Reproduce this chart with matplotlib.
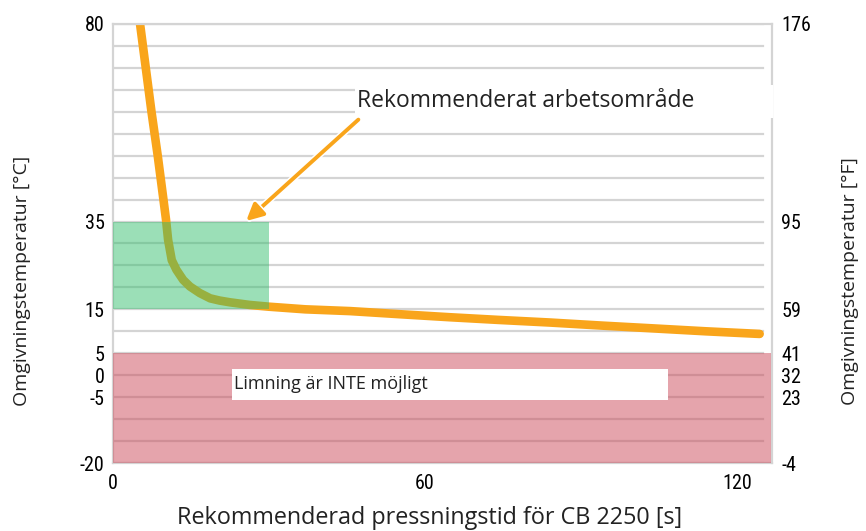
import matplotlib.pyplot as plt
import matplotlib.patheffects as pe
from matplotlib.patches import Rectangle
from matplotlib import font_manager

# pressing time [s] vs ambient temperature [°C]
tid = [5.2, 6.3, 7.4, 8.6, 9.7, 10.2, 10.6, 11.3, 12.2, 13.5, 14.8, 16.7, 18.7,
       20.5, 22.5, 26.3, 30.0, 37.0, 45.6, 55.0, 64.8, 74.0, 84.0, 94.0, 103.3,
       114.0, 124.4]
temp = [80, 70, 60, 50, 40, 35.4, 30.8, 26.2, 24.0, 21.7, 20.2, 18.7, 17.5,
        17.0, 16.6, 16.0, 15.6, 15.0, 14.6, 13.9, 13.2, 12.6, 12.0, 11.3, 10.7,
        10.0, 9.4]

c_ticks = [80, 35, 15, 5, 0, -5, -20]
f_labels = ["176", "95", "59", "41", "32", "23", "-4"]
x_ticks = [0, 60, 120]

ok_zone = (0, 30, 15, 35)      # x0, x1, y0, y1
no_zone = (0, 126.5, -20, 5)

orange = "#f9a51b"
gray = "#d4d4d4"
txtfont = ["Open Sans", "DejaVu Sans"]

# look for a narrow sans for the tick numbers
narrow = None
names = {f.name for f in font_manager.fontManager.ttflist}
for cand in ["Liberation Sans Narrow", "Roboto Condensed", "Open Sans Condensed",
             "DejaVu Sans Condensed"]:
    if cand in names:
        narrow = dict(family=cand)
        break
if narrow is None:
    narrow = dict(family="Liberation Sans")

fig = plt.figure(figsize=(8.66, 5.31), dpi=100)
ax = fig.add_axes([0.1305, 0.128, 0.7605, 0.827])
ax.set_xlim(0, 126.7)
ax.set_ylim(-20, 80)

for yy in range(-20, 81, 5):
    ax.plot([0, 125], [yy, yy], color=gray, lw=1.6, zorder=1)

ax.plot(tid, temp, color=orange, lw=6.2, solid_capstyle="round",
        solid_joinstyle="round", zorder=2)

ax.add_patch(Rectangle((ok_zone[0], ok_zone[2]), ok_zone[1] - ok_zone[0],
                       ok_zone[3] - ok_zone[2], facecolor="#2fbd6a", alpha=0.48,
                       edgecolor="none", zorder=3))
ax.add_patch(Rectangle((no_zone[0], no_zone[2]), no_zone[1] - no_zone[0],
                       no_zone[3] - no_zone[2], facecolor="#cc4a5a", alpha=0.5,
                       edgecolor="none", zorder=3))

for s in ax.spines.values():
    s.set_color(gray)
    s.set_linewidth(1.6)

ax.set_yticks(c_ticks)
ax.set_yticklabels([str(v) for v in c_ticks], fontsize=14.5, **narrow)
ax.set_xticks(x_ticks)
ax.set_xticklabels([str(v) for v in x_ticks], fontsize=14.5, **narrow)
ax.tick_params(length=0, pad=6)
ax.tick_params(axis="x", pad=8)
ax.set_xlabel("Rekommenderad pressningstid för CB 2250 [s]", fontsize=16.8,
              family=txtfont, color="#222222")
ax.xaxis.set_label_coords(0.481, -0.097)
ax.set_ylabel("Omgivningstemperatur [°C]", fontsize=14, family=txtfont, color="#222222")
ax.yaxis.set_label_coords(-0.125, 0.415)

ax2 = ax.twinx()
ax2.set_ylim(ax.get_ylim())
ax2.set_yticks(c_ticks)
ax2.set_yticklabels(f_labels, fontsize=14.5, **narrow)
ax2.tick_params(length=0, pad=7)
ax2.set_ylabel("Omgivningstemperatur [°F]", fontsize=14, family=txtfont, color="#222222")
ax2.yaxis.set_label_coords(1.106, 0.415)
for s in ax2.spines.values():
    s.set_visible(False)

# white label boxes
ax.add_patch(Rectangle((46.5, 58.6), 80.5, 7.5, facecolor="white", edgecolor="none",
                       zorder=5, clip_on=False))
ax.add_patch(Rectangle((22.9, -5.65), 83.8, 7.05, facecolor="white", edgecolor="none",
                       zorder=5))
ax.text(47.0, 62.4, "Rekommenderat arbetsområde", fontsize=16.5, family=txtfont,
        color="#222222", va="center", ha="left", zorder=6)
ax.text(23.3, -2.1, "Limning är INTE möjligt", fontsize=13.0,
        family=txtfont, color="#222222", va="center", ha="left", zorder=6)

ax.annotate("", xy=(25.6, 35.1), xytext=(47.2, 58.2),
            arrowprops=dict(arrowstyle="-|>,head_length=1.0,head_width=0.5",
                            color=orange, lw=2.8, shrinkA=0, shrinkB=0,
                            path_effects=[pe.withStroke(linewidth=5, foreground="white")]),
            zorder=7)

fig.savefig("out.png", dpi=100)
